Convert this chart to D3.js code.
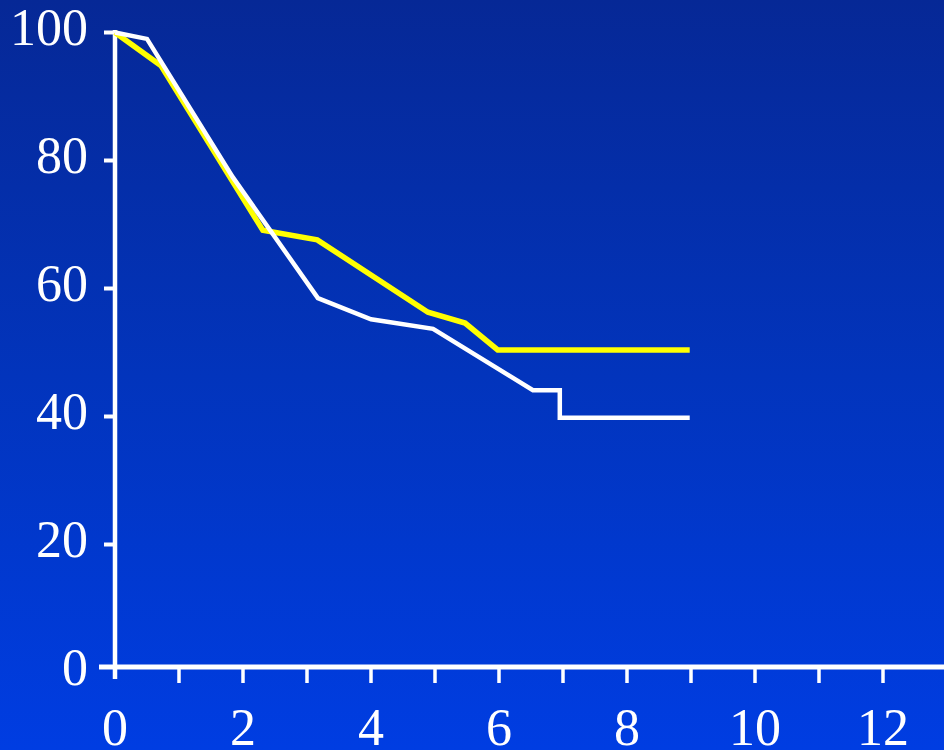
<!DOCTYPE html>
<html>
<head>
<meta charset="utf-8">
<script src="https://cdn.jsdelivr.net/npm/d3@7"></script>
<style>
  html, body { margin: 0; padding: 0; background: #0035c0; }
  svg { display: block; }
</style>
</head>
<body>
<svg id="chart" width="944" height="750"></svg>
<script>
// ---- data ----
const yellowX = [0, 0.72, 2.31, 3.16, 4.89, 5.47, 5.98, 8.98];
const yellowY = [100, 94.8, 69.1, 67.6, 56.3, 54.6, 50.4, 50.4];

const whiteX = [0, 0.5, 1.84, 3.17, 4.0, 4.97, 6.53, 6.95, 6.95, 8.98];
const whiteY = [100, 99, 77.4, 58.5, 55.2, 53.7, 44.1, 44.1, 39.8, 39.8];

const yTicks = [0, 20, 40, 60, 80, 100];
const xLabelTicks = [0, 2, 4, 6, 8, 10, 12];
const xMinorTicks = [1, 2, 3, 4, 5, 6, 7, 8, 9, 10, 11, 12];

// ---- layout ----
const W = 944, H = 750;
const svg = d3.select("#chart");

const defs = svg.append("defs");
const grad = defs.append("linearGradient")
  .attr("id", "bg").attr("x1", 0).attr("y1", 0).attr("x2", 0).attr("y2", 1);
grad.append("stop").attr("offset", "0%").attr("stop-color", "#062896");
grad.append("stop").attr("offset", "50%").attr("stop-color", "#0234bc");
grad.append("stop").attr("offset", "100%").attr("stop-color", "#003de2");
svg.append("rect").attr("width", W).attr("height", H).attr("fill", "url(#bg)");

const x = d3.scaleLinear().domain([0, 12]).range([115, 883]);
const y = d3.scaleLinear().domain([0, 100]).range([672.5, 32.5]);

const axisY = y(0) - 5.5;   // x-axis baseline as drawn in the reference
const font = "'Liberation Serif', 'Times New Roman', serif";
const fs = 52;

// y axis line
svg.append("line")
  .attr("x1", x(0)).attr("x2", x(0))
  .attr("y1", y(100) - 2.5).attr("y2", axisY + 12)
  .attr("stroke", "#fff").attr("stroke-width", 4.5);

// y ticks
svg.selectAll(".yt").data(yTicks.filter(d => d > 0)).enter().append("line")
  .attr("x1", x(0) - 11).attr("x2", x(0))
  .attr("y1", d => y(d)).attr("y2", d => y(d))
  .attr("stroke", "#fff").attr("stroke-width", 4);

// x axis line (extends left as the 0 tick)
svg.append("line")
  .attr("x1", x(0) - 16).attr("x2", W)
  .attr("y1", axisY).attr("y2", axisY)
  .attr("stroke", "#fff").attr("stroke-width", 5);

// x ticks
svg.selectAll(".xt").data(xMinorTicks).enter().append("line")
  .attr("x1", d => x(d)).attr("x2", d => x(d))
  .attr("y1", axisY).attr("y2", axisY + 16)
  .attr("stroke", "#fff").attr("stroke-width", 3.5);

// y labels
svg.selectAll(".yl").data(yTicks).enter().append("text")
  .attr("x", 88).attr("y", d => y(d) + 12.5)
  .attr("text-anchor", "end")
  .attr("font-family", font).attr("font-size", fs)
  .attr("fill", "#fff")
  .text(d => d);

// x labels
svg.selectAll(".xl").data(xLabelTicks).enter().append("text")
  .attr("x", d => x(d)).attr("y", 745)
  .attr("text-anchor", "middle")
  .attr("font-family", font).attr("font-size", fs)
  .attr("fill", "#fff")
  .text(d => d);

// lines
const line = d3.line().x(d => x(d[0])).y(d => y(d[1]));
const yellowData = d3.zip(yellowX, yellowY);
const whiteData = d3.zip(whiteX, whiteY);

svg.append("path").datum(yellowData)
  .attr("d", line).attr("fill", "none")
  .attr("stroke", "#ffff00").attr("stroke-width", 5.5)
  .attr("stroke-linejoin", "miter");

svg.append("path").datum(whiteData)
  .attr("d", line).attr("fill", "none")
  .attr("stroke", "#ffffff").attr("stroke-width", 4.5)
  .attr("stroke-linejoin", "miter");
</script>
</body>
</html>
